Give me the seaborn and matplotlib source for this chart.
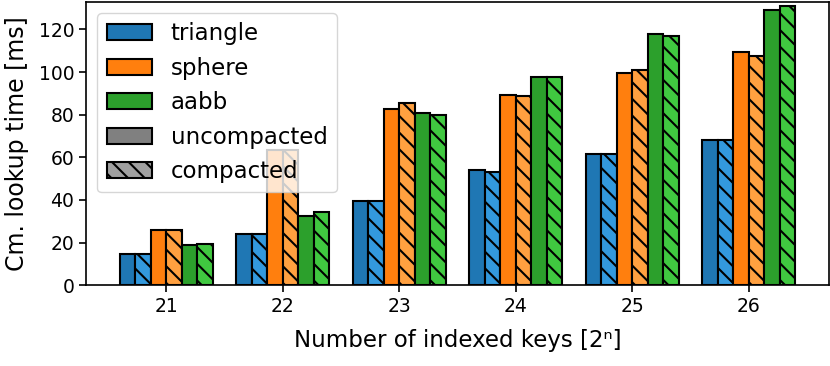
import matplotlib
matplotlib.use("Agg")
import matplotlib.pyplot as plt
from matplotlib.patches import Patch
import seaborn as sns
import pandas as pd

n_keys = ["21", "22", "23", "24", "25", "26"]
shapes = ["triangle", "sphere", "aabb"]

triangle_uncompacted = [14.6, 24.2, 39.6, 54.0, 61.5, 68.2]
triangle_compacted = [14.6, 24.2, 39.5, 53.3, 61.5, 68.1]
sphere_uncompacted = [26.0, 63.5, 82.6, 89.2, 99.5, 109.5]
sphere_compacted = [26.0, 63.4, 85.3, 88.7, 101.1, 107.6]
aabb_uncompacted = [18.8, 32.5, 81.0, 97.7, 117.8, 129.2]
aabb_compacted = [19.5, 34.6, 79.8, 97.5, 117.0, 130.8]

series = [
    ("triangle", "uncompacted", triangle_uncompacted),
    ("triangle", "compacted", triangle_compacted),
    ("sphere", "uncompacted", sphere_uncompacted),
    ("sphere", "compacted", sphere_compacted),
    ("aabb", "uncompacted", aabb_uncompacted),
    ("aabb", "compacted", aabb_compacted),
]
colors = ["#1f77b4", "#3399dd", "#ff7f0e", "#ffa040", "#2ca02c", "#40c840"]

rows = []
for shape, mode, vals in series:
    for n, v in zip(n_keys, vals):
        rows.append({"n": n, "variant": f"{shape}-{mode}", "mode": mode, "value": v})
df = pd.DataFrame(rows)
hue_order = [f"{s}-{m}" for s, m, _ in series]

plt.rcParams["hatch.linewidth"] = 1.5
plt.rcParams["axes.linewidth"] = 1.2
fig = plt.figure(figsize=(8.3, 3.66), dpi=100)
ax = fig.add_axes([0.1036, 0.2205, 0.8952, 0.7749])

sns.barplot(data=df, x="n", y="value", hue="variant", hue_order=hue_order,
            order=n_keys, palette=colors, edgecolor="black", linewidth=1.5,
            width=0.8, gap=0, saturation=1, legend=False, ax=ax)

for cont, (shape, mode, _) in zip(ax.containers, series):
    if mode == "compacted":
        for p in cont.patches:
            p.set_hatch("\\\\")

ax.set_ylim(0, 133)
ax.set_xlim(-0.69, 5.69)
ax.set_xlabel("Number of indexed keys [2ⁿ]", fontsize=16.5, labelpad=9)
ax.set_ylabel("Cm. lookup time [ms]", fontsize=17, labelpad=7)
ax.tick_params(axis="both", labelsize=13.5, length=5, width=1.2, pad=3.5)

handles = [
    Patch(facecolor="#1f77b4", edgecolor="black", linewidth=1.5, label="triangle"),
    Patch(facecolor="#ff7f0e", edgecolor="black", linewidth=1.5, label="sphere"),
    Patch(facecolor="#2ca02c", edgecolor="black", linewidth=1.5, label="aabb"),
    Patch(facecolor="#808080", edgecolor="black", linewidth=1.5, label="uncompacted"),
    Patch(facecolor="#a0a0a0", edgecolor="black", linewidth=1.5, hatch="\\\\", label="compacted"),
]
ax.legend(handles=handles, loc="upper left", fontsize=16.5, labelspacing=0.5)

fig.savefig("out.png", dpi=100)
